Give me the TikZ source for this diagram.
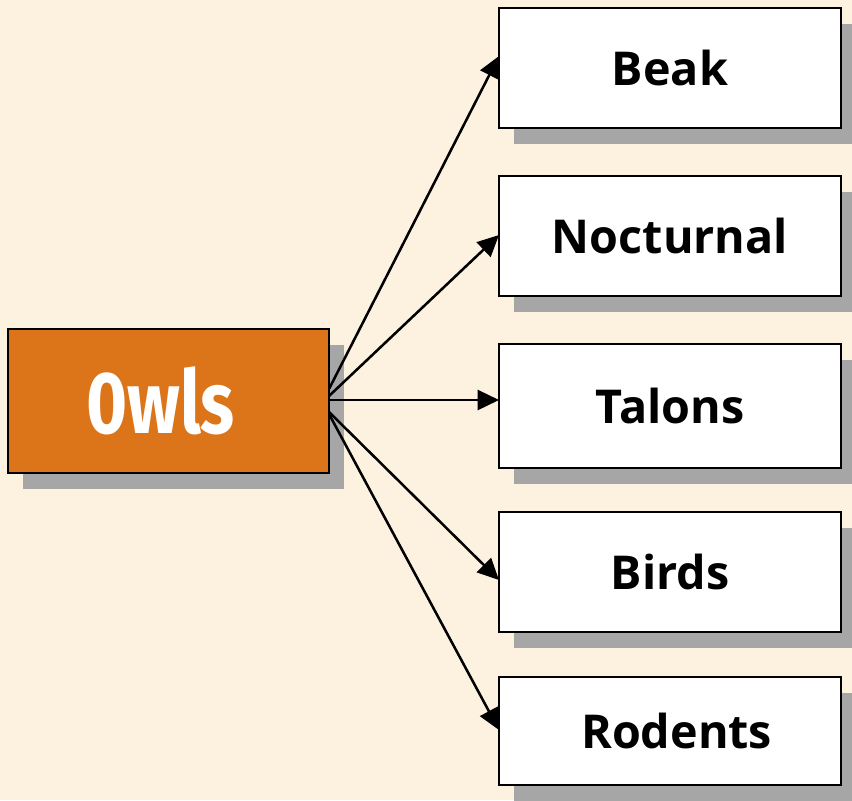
\documentclass[tikz,border=0pt]{standalone}
\usepackage{fontspec}
\setmainfont{Open Sans}
\newfontfamily\owlfont{Fira Sans}
\usetikzlibrary{arrows.meta,shadows}
\definecolor{bgcream}{HTML}{FDF2DF}
\definecolor{owlorange}{HTML}{DC741A}
\definecolor{shadowgray}{HTML}{A6A6A6}
\tikzset{
  boxshadow/.style={drop shadow={shadow xshift=11pt,shadow yshift=-12pt,fill=shadowgray,opacity=1}},
  mainbox/.style={draw=black,line width=1pt,fill=owlorange,minimum width=240.75pt,minimum height=108pt,text=white,boxshadow,font=\owlfont\bfseries\fontsize{66}{72}\selectfont},
  itembox/.style={draw=black,line width=1pt,fill=white,minimum width=256.5pt,boxshadow,font=\bfseries\fontsize{35}{40}\selectfont},
  link/.style={line width=1.9pt,-{Triangle[length=16pt,width=15pt]}}
}
\begin{document}
\begin{tikzpicture}[x=0.75pt,y=-0.75pt]
\fill[bgcream] (0,0) rectangle (852,800);
\useasboundingbox (0,0) rectangle (852,800);
\node[mainbox] (owls) at (168.5,401) {\hspace*{-12pt}\scalebox{0.8}[1]{0wls}};
\node[itembox,minimum height=90pt] (beak) at (670,68) {Beak};
\node[itembox,minimum height=90pt] (noct) at (670,236) {Nocturnal};
\node[itembox,minimum height=93pt] (talons) at (670,406) {Talons};
\node[itembox,minimum height=90pt] (birds) at (670,572) {Birds};
\node[itembox,minimum height=81pt] (rodents) at (670,731) {\hspace*{10pt}Rodents};
\coordinate (sB) at (329,389);
\coordinate (sN) at (329,396);
\coordinate (sT) at (329,400);
\coordinate (sBi) at (329,412);
\coordinate (sR) at (329,414);
\coordinate (eB) at (499,56);
\coordinate (eN) at (499,235);
\coordinate (eT) at (499,400);
\coordinate (eBi) at (499,580);
\coordinate (eR) at (499,730);
\draw[link] (sB) -- (eB);
\draw[link] (sN) -- (eN);
\draw[link] (sT) -- (eT);
\draw[link] (sBi) -- (eBi);
\draw[link] (sR) -- (eR);
\end{tikzpicture}
\end{document}
